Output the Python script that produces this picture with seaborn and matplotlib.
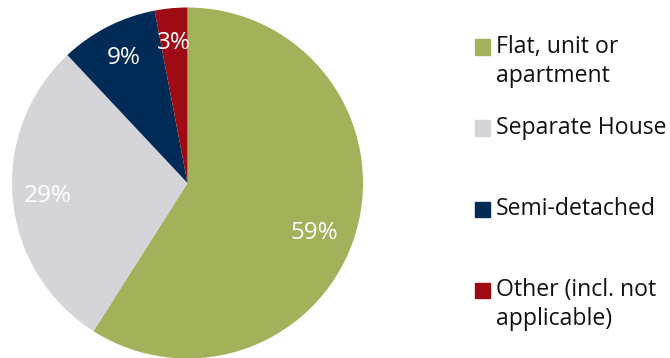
import matplotlib
matplotlib.use("Agg")
import numpy as np
import matplotlib.pyplot as plt
from matplotlib.patches import Rectangle
import seaborn as sns

categories = ["Flat, unit or\napartment", "Separate House", "Semi-detached",
              "Other (incl. not\napplicable)"]
shares = [59, 29, 9, 3]
colors = ["#A2B25A", "#D4D4D9", "#002B57", "#9E0B14"]

sns.set_theme(style="white")
plt.rcParams["font.family"] = ["Open Sans", "DejaVu Sans"]

W, H = 670, 358
fig = plt.figure(figsize=(W / 100, H / 100), dpi=100)
fig.patch.set_facecolor("white")

# pie axes: centre (187.5, 183) px, radius 175.5 px
cx, cy, r = 187.5, 183, 175.5
ax = fig.add_axes([(cx - r) / W, (H - cy - r) / H, 2 * r / W, 2 * r / H])

palette = sns.color_palette(colors)
wedges, texts, autotexts = ax.pie(
    shares, colors=palette, startangle=90, counterclock=False,
    autopct=lambda p: f"{p:.0f}%", pctdistance=0.8,
    wedgeprops=dict(linewidth=0),
    textprops=dict(color="white", fontsize=17.5),
)
# the large slice label sits a little lower than its mid-angle
a = np.deg2rad(-21.5)
autotexts[0].set_position((0.78 * np.cos(a), 0.78 * np.sin(a)))

ax.set_xlim(-1, 1)
ax.set_ylim(-1, 1)
ax.set_aspect("equal")
ax.axis("off")

# manual legend, marker aligned with the first text line
mx, msize = 475, 15
tx = 496
centers = [47, 128, 209, 290]
for lab, col, yc in zip(categories, palette, centers):
    fig.patches.append(Rectangle((mx / W, (H - yc - msize / 2) / H),
                                 msize / W, msize / H, color=col,
                                 transform=fig.transFigure, figure=fig))
    fig.text(tx / W, (H - yc + 12) / H, lab, ha="left", va="top",
             fontsize=16.6, color="#111111", linespacing=1.3)

fig.savefig("out.png", dpi=100)
